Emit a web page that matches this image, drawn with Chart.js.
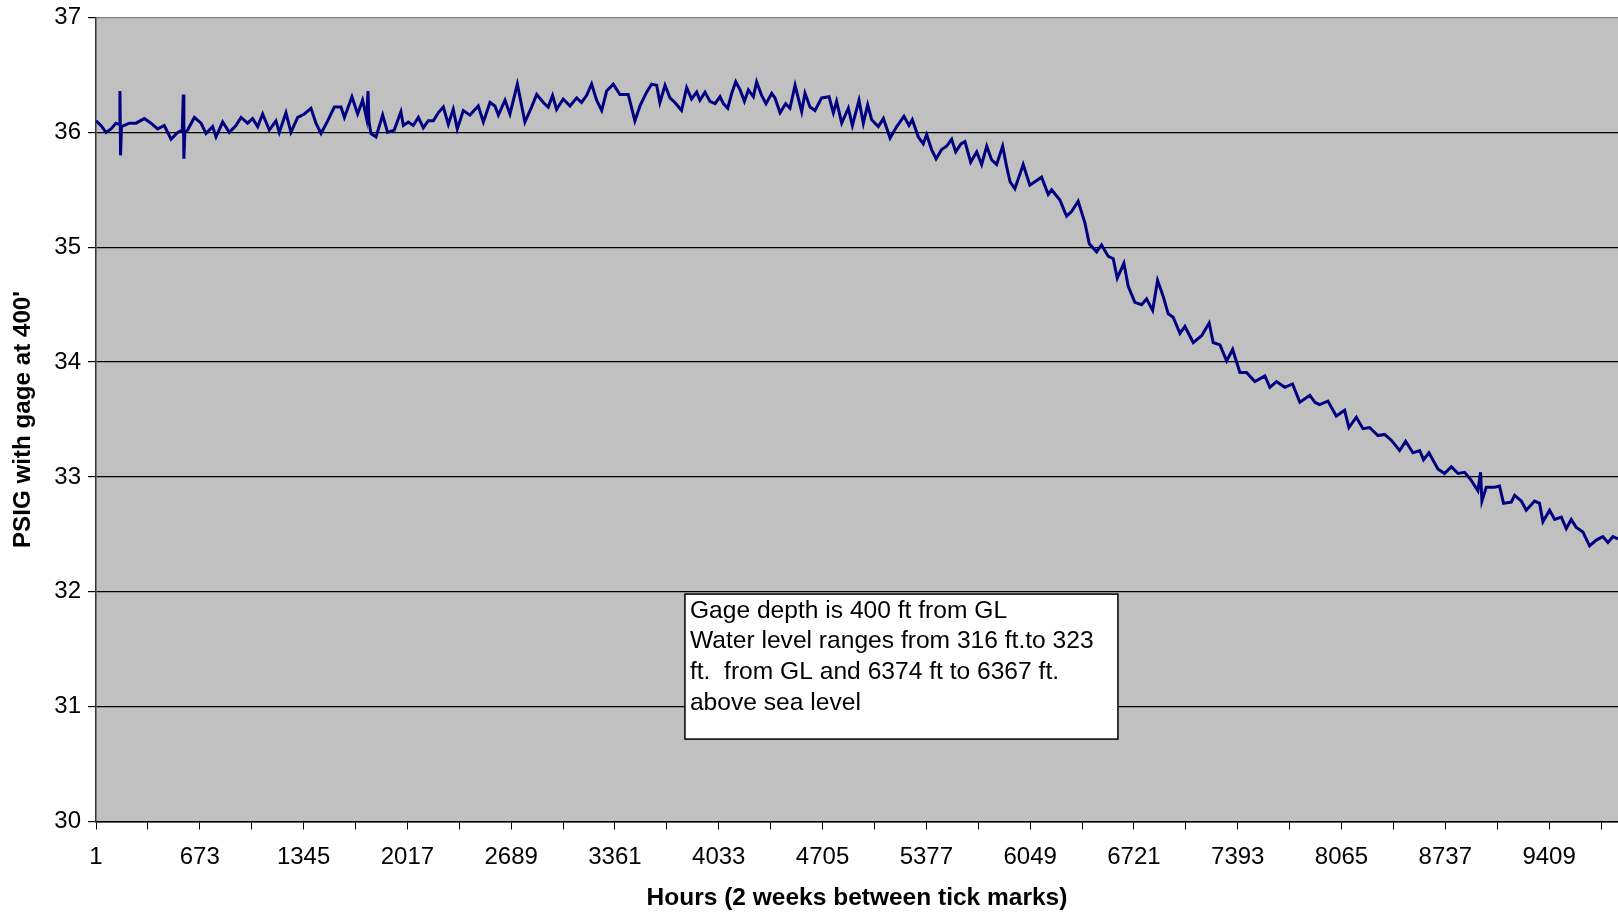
<!DOCTYPE html>
<html>
<head>
<meta charset="utf-8">
<script src="https://cdn.jsdelivr.net/npm/chart.js@4.4.0/dist/chart.umd.min.js"></script>
<style>
  html, body { margin: 0; padding: 0; background: #fff; }
  #wrap { width: 1618px; height: 914px; }
</style>
</head>
<body>
<div id="wrap"><canvas id="gageChart" width="1618" height="914"></canvas></div>
<script>
// Hourly gage readings, sampled off the plot
const hours = [
  1, 33, 66, 98, 130, 150, 156, 160, 166, 217, 260, 314, 357, 400, 443, 487, 530, 560, 566, 570,
  576, 594, 638, 681, 713, 756, 778, 821, 864, 907, 940, 983, 1015, 1048, 1080, 1123, 1166, 1188, 1231, 1263,
  1307, 1350, 1393, 1425, 1458, 1501, 1544, 1587, 1609, 1658, 1695, 1727, 1753, 1762, 1768, 1781, 1814, 1857, 1889, 1932,
  1975, 1991, 2023, 2055, 2088, 2120, 2152, 2185, 2217, 2250, 2282, 2314, 2340, 2379, 2422, 2476, 2509, 2552, 2584, 2606,
  2649, 2681, 2729, 2778, 2821, 2854, 2897, 2929, 2957, 2983, 3026, 3070, 3113, 3145, 3177, 3210, 3242, 3275, 3307, 3350,
  3393, 3447, 3490, 3523, 3566, 3598, 3631, 3652, 3685, 3717, 3749, 3792, 3825, 3857, 3890, 3911, 3944, 3976, 4009, 4041,
  4063, 4091, 4117, 4143, 4171, 4199, 4225, 4257, 4278, 4311, 4339, 4376, 4397, 4430, 4466, 4494, 4527, 4570, 4591, 4624,
  4656, 4699, 4747, 4775, 4796, 4829, 4872, 4898, 4941, 4969, 4997, 5023, 5066, 5099, 5142, 5185, 5232, 5265, 5286, 5325,
  5357, 5379, 5411, 5440, 5476, 5508, 5541, 5567, 5601, 5627, 5664, 5703, 5735, 5768, 5800, 5832, 5871, 5897, 5919, 5950,
  6004, 6047, 6123, 6166, 6188, 6242, 6285, 6317, 6360, 6404, 6432, 6479, 6511, 6555, 6587, 6613, 6656, 6684, 6727, 6770,
  6803, 6842, 6874, 6911, 6943, 6975, 7019, 7051, 7105, 7159, 7208, 7234, 7278, 7321, 7360, 7407, 7450, 7504, 7569, 7601,
  7644, 7698, 7748, 7795, 7860, 7893, 7923, 7977, 8031, 8085, 8113, 8161, 8204, 8247, 8301, 8344, 8387, 8441, 8480, 8527,
  8571, 8596, 8631, 8689, 8732, 8776, 8819, 8862, 8905, 8948, 8965, 8974, 9002, 9056, 9088, 9114, 9164, 9186, 9229, 9261,
  9315, 9347, 9369, 9412, 9445, 9488, 9520, 9552, 9585, 9628, 9671, 9714, 9757, 9790, 9822, 9855
];
const psig = [
  36.10, 36.06, 36.00, 36.03, 36.08, 36.07, 36.36, 35.80, 36.05, 36.08, 36.08, 36.12, 36.08, 36.03, 36.06, 35.94, 36.00, 36.02, 36.33, 35.77,
  36.00, 36.02, 36.13, 36.08, 35.99, 36.05, 35.96, 36.09, 36.00, 36.06, 36.13, 36.08, 36.12, 36.05, 36.16, 36.02, 36.10, 36.00, 36.17, 36.00,
  36.13, 36.16, 36.21, 36.08, 35.99, 36.10, 36.22, 36.22, 36.13, 36.31, 36.16, 36.28, 36.12, 36.36, 36.10, 35.99, 35.96, 36.15, 36.00, 36.02,
  36.18, 36.06, 36.09, 36.06, 36.13, 36.04, 36.10, 36.10, 36.17, 36.22, 36.07, 36.20, 36.03, 36.19, 36.15, 36.23, 36.09, 36.26, 36.23, 36.15,
  36.28, 36.16, 36.42, 36.09, 36.22, 36.33, 36.26, 36.22, 36.32, 36.20, 36.29, 36.23, 36.30, 36.26, 36.32, 36.42, 36.28, 36.19, 36.36, 36.42,
  36.33, 36.33, 36.10, 36.23, 36.35, 36.42, 36.41, 36.26, 36.41, 36.30, 36.26, 36.19, 36.39, 36.29, 36.35, 36.28, 36.35, 36.27, 36.25, 36.31,
  36.25, 36.21, 36.34, 36.44, 36.37, 36.27, 36.37, 36.31, 36.44, 36.32, 36.25, 36.34, 36.30, 36.17, 36.25, 36.21, 36.41, 36.18, 36.34, 36.22,
  36.19, 36.30, 36.31, 36.17, 36.27, 36.08, 36.21, 36.06, 36.28, 36.08, 36.24, 36.11, 36.05, 36.12, 35.95, 36.05, 36.14, 36.06, 36.11, 35.96,
  35.90, 35.98, 35.85, 35.77, 35.85, 35.88, 35.94, 35.83, 35.90, 35.92, 35.74, 35.83, 35.72, 35.88, 35.76, 35.72, 35.88, 35.70, 35.57, 35.51,
  35.72, 35.54, 35.61, 35.46, 35.50, 35.41, 35.27, 35.31, 35.40, 35.21, 35.03, 34.96, 35.02, 34.92, 34.90, 34.73, 34.86, 34.66, 34.52, 34.50,
  34.55, 34.45, 34.71, 34.57, 34.42, 34.39, 34.25, 34.31, 34.17, 34.23, 34.34, 34.17, 34.15, 34.01, 34.11, 33.91, 33.91, 33.83, 33.88, 33.78,
  33.83, 33.78, 33.81, 33.65, 33.71, 33.65, 33.63, 33.66, 33.53, 33.58, 33.43, 33.52, 33.42, 33.43, 33.36, 33.37, 33.32, 33.23, 33.31, 33.21,
  33.23, 33.15, 33.21, 33.07, 33.03, 33.09, 33.03, 33.04, 32.97, 32.88, 33.04, 32.79, 32.91, 32.91, 32.92, 32.77, 32.78, 32.84, 32.79, 32.71,
  32.79, 32.77, 32.61, 32.71, 32.63, 32.65, 32.55, 32.63, 32.56, 32.52, 32.40, 32.45, 32.48, 32.43, 32.48, 32.46
];

// tick marks every 336 h (2 weeks), labels every other one
const xTicks = [1, 337, 673, 1009, 1345, 1681, 2017, 2353, 2689, 3025, 3361, 3697, 4033, 4369, 4705,
  5041, 5377, 5713, 6049, 6385, 6721, 7057, 7393, 7729, 8065, 8401, 8737, 9073, 9409, 9745];
const xLabels = ['1', '673', '1345', '2017', '2689', '3361', '4033', '4705', '5377', '6049', '6721', '7393', '8065', '8737', '9409'];
const yTicks = [30, 31, 32, 33, 34, 35, 36, 37];

const noteLines = [
  'Gage depth is 400 ft from GL',
  'Water level ranges from 316 ft.to 323',
  'ft.  from GL and 6374 ft to 6367 ft.',
  'above sea level'
];

const FONT = "'Liberation Sans', Arial, sans-serif";

const plotBackground = {
  id: 'plotBackground',
  beforeDraw(chart) {
    const { ctx, chartArea: a } = chart;
    ctx.save();
    ctx.fillStyle = '#c0c0c0';
    ctx.fillRect(a.left, a.top, a.right - a.left, a.bottom - a.top);
    ctx.restore();
  }
};

const noteBox = {
  id: 'noteBox',
  afterDraw(chart) {
    const { ctx } = chart;
    const x = chart.scales.x.getPixelForValue(3814);
    const y = chart.scales.y.getPixelForValue(31.98);
    const w = 433, h = 145;
    ctx.save();
    ctx.fillStyle = '#fff';
    ctx.fillRect(x, y, w, h);
    ctx.strokeStyle = '#000';
    ctx.lineWidth = 1.5;
    ctx.strokeRect(x, y, w, h);
    ctx.fillStyle = '#000';
    ctx.font = '24.6px ' + FONT;
    ctx.textBaseline = 'middle';
    noteLines.forEach((line, i) => ctx.fillText(line, x + 5, y + 17 + i * 30.6));
    ctx.restore();
  }
};

const ctx = document.getElementById('gageChart').getContext('2d');
new Chart(ctx, {
  type: 'line',
  data: {
    datasets: [{
      data: hours.map((h, i) => ({ x: h, y: psig[i] })),
      borderColor: '#000080',
      borderWidth: 3,
      pointRadius: 0,
      tension: 0,
      fill: false
    }]
  },
  options: {
    responsive: false,
    animation: false,
    layout: { padding: { top: 17.5, right: 0, left: 0, bottom: 0 } },
    plugins: {
      legend: { display: false },
      tooltip: { enabled: false }
    },
    scales: {
      x: {
        type: 'linear',
        min: 1,
        max: 9855,
        afterBuildTicks: (scale) => { scale.ticks = xTicks.map(v => ({ value: v })); },
        afterFit: (scale) => { scale.height = 92.5; },
        ticks: {
          autoSkip: false,
          maxRotation: 0,
          color: '#000',
          padding: 13,
          font: { family: FONT, size: 24 },
          callback: (v) => xLabels.includes(String(v)) ? String(v) : ''
        },
        grid: { drawOnChartArea: false, drawTicks: true, tickLength: 8, color: '#000' },
        border: { color: '#000', width: 1.5 },
        title: {
          display: true,
          text: 'Hours (2 weeks between tick marks)',
          color: '#000',
          font: { family: FONT, size: 24.5, weight: 'bold' },
          padding: { top: 0, bottom: 1 }
        }
      },
      y: {
        min: 30,
        max: 37,
        afterBuildTicks: (scale) => { scale.ticks = yTicks.map(v => ({ value: v })); },
        afterFit: (scale) => { scale.width = 96; },
        ticks: {
          color: '#000',
          padding: 7,
          font: { family: FONT, size: 24, lineHeight: 0.8 }
        },
        grid: {
          color: (c) => c.tick && c.tick.value === 37 ? '#808080' : '#000',
          lineWidth: 1.2,
          tickLength: 8,
          tickColor: '#000'
        },
        border: { color: '#333', width: 1.5 },
        title: {
          display: true,
          text: "PSIG with gage at 400'",
          color: '#000',
          font: { family: FONT, size: 24.2, weight: 'bold' },
          padding: { top: 9, bottom: 0 }
        }
      }
    }
  },
  plugins: [plotBackground, noteBox]
});
</script>
</body>
</html>
